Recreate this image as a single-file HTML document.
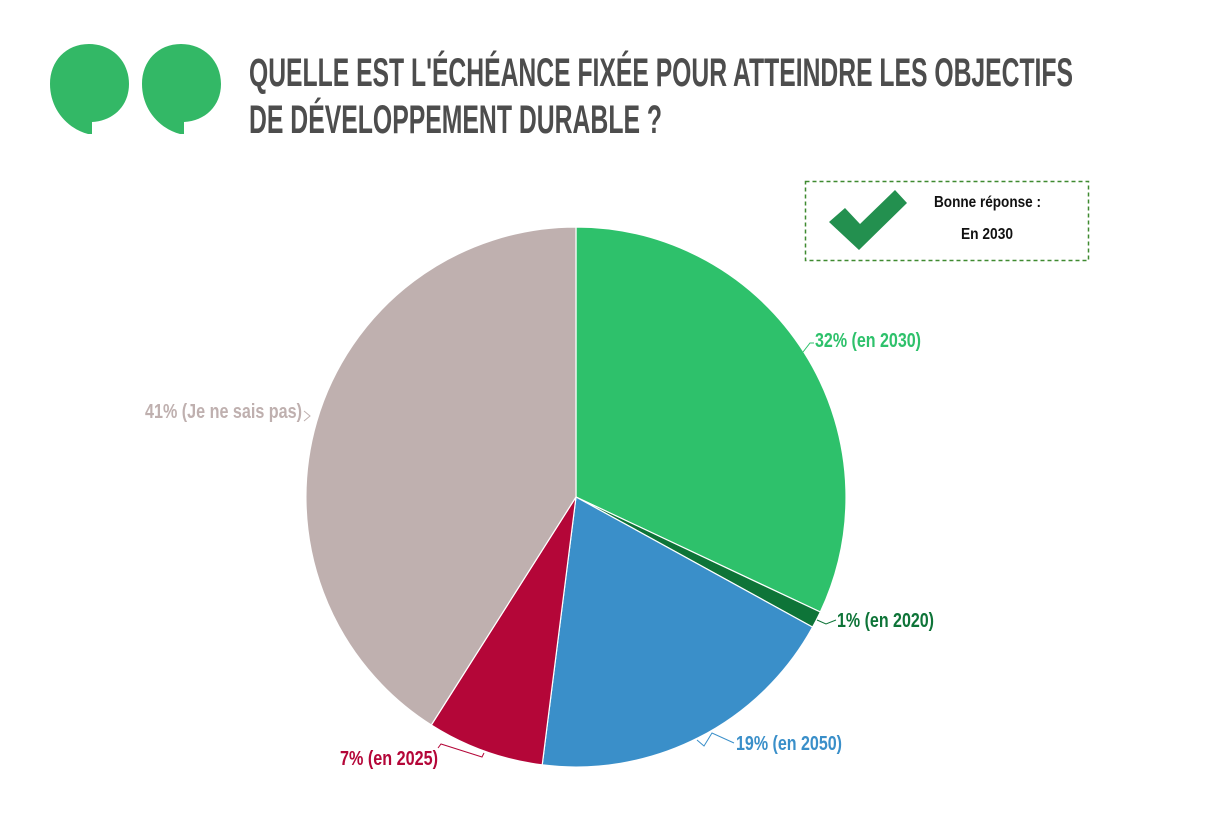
<!DOCTYPE html>
<html><head><meta charset="utf-8"><style>
html,body{margin:0;padding:0;background:#fff;}
svg{display:block;}
text{font-family:"Liberation Sans",sans-serif;font-weight:bold;}
</style></head><body>
<svg width="1226" height="832" viewBox="0 0 1226 832" xmlns="http://www.w3.org/2000/svg">
<!-- quote bubbles -->
<g fill="#33b866">
<path d="M89 44 C112 44 129 61 129 84 C129 106 113 121 92 122 L92 134 L88 134 C66 128 50 108 50 84 C50 61 66 44 89 44 Z"/>
<path d="M181 44 C204 44 221 61 221 84 C221 106 205 121 184 122 L184 134 L180 134 C158 128 142 108 142 84 C142 61 158 44 181 44 Z"/>
</g>
<!-- title -->
<text x="249" y="86" font-size="40" fill="#4d4d4d" textLength="824" lengthAdjust="spacingAndGlyphs">QUELLE EST L'ÉCHÉANCE FIXÉE POUR ATTEINDRE LES OBJECTIFS</text>
<text x="249" y="133" font-size="40" fill="#4d4d4d" textLength="413" lengthAdjust="spacingAndGlyphs">DE DÉVELOPPEMENT DURABLE ?</text>
<!-- answer box -->
<rect x="805.5" y="181.5" width="283" height="79" fill="none" stroke="#3f8a30" stroke-width="1.5" stroke-dasharray="4,3"/>
<path d="M829 222 L845 208 L860 224 L895 190 L907 203 L859 250 Z" fill="#23904f"/>
<text x="934" y="207" font-size="16" fill="#111" textLength="107" lengthAdjust="spacingAndGlyphs">Bonne réponse :</text>
<text x="961" y="239" font-size="16" fill="#111" textLength="52" lengthAdjust="spacingAndGlyphs">En 2030</text>
<!-- pie -->
<g stroke="#fff" stroke-width="1.2">
<path d="M576 497 L576 227 A270 270 0 0 1 820.3 612 Z" fill="#2ec16b"/>
<path d="M576 497 L820.3 612 A270 270 0 0 1 812.6 627.1 Z" fill="#0e7438"/>
<path d="M576 497 L812.6 627.1 A270 270 0 0 1 542.2 764.9 Z" fill="#3a8fc9"/>
<path d="M576 497 L542.2 764.9 A270 270 0 0 1 431.3 725 Z" fill="#b40638"/>
<path d="M576 497 L431.3 725 A270 270 0 0 1 576 227 Z" fill="#bfb0af"/>
</g>
<!-- leaders -->
<g fill="none" stroke-width="1">
<polyline points="803,352 810,343 814,343" stroke="#2ec16b"/>
<polyline points="817,620 826,624 836,620" stroke="#0e7438"/>
<polyline points="697,740 704,746 712,733 734,743" stroke="#3a8fc9"/>
<polyline points="484,753 482,757 441,744 438,748" stroke="#b40638"/>
<polyline points="304,411 310,416 304,421" stroke="#bfb0af"/>
</g>
<!-- labels -->
<text x="815" y="347" font-size="20" fill="#2ec16b" textLength="106" lengthAdjust="spacingAndGlyphs">32% (en 2030)</text>
<text x="145" y="418" font-size="20" fill="#bfb0af" textLength="157" lengthAdjust="spacingAndGlyphs">41% (Je ne sais pas)</text>
<text x="837" y="627" font-size="20" fill="#0e7438" textLength="97" lengthAdjust="spacingAndGlyphs">1% (en 2020)</text>
<text x="736" y="750" font-size="20" fill="#3a8fc9" textLength="106" lengthAdjust="spacingAndGlyphs">19% (en 2050)</text>
<text x="340" y="765" font-size="20" fill="#b40638" textLength="98" lengthAdjust="spacingAndGlyphs">7% (en 2025)</text>
</svg>
</body></html>
